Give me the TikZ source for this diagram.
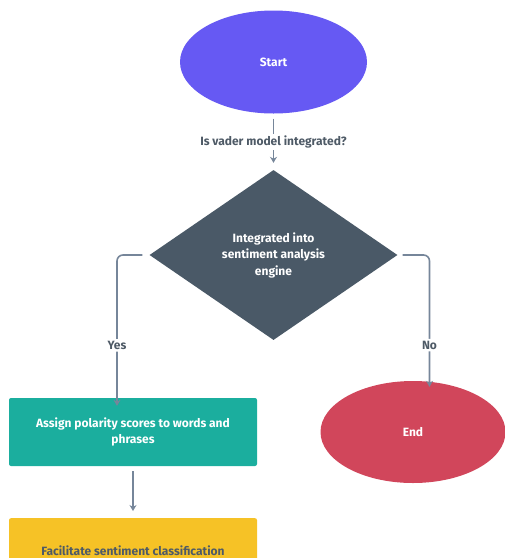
\documentclass[tikz,border=0pt]{standalone}
\usepackage{fontspec}
\setmainfont{Fira Sans}
\usetikzlibrary{shapes.geometric,arrows.meta}
\definecolor{startc}{HTML}{6659F3}
\definecolor{diac}{HTML}{4A5967}
\definecolor{tealc}{HTML}{1BAE9E}
\definecolor{endc}{HTML}{D1465B}
\definecolor{yelc}{HTML}{F6C226}
\definecolor{connc}{HTML}{76869A}
\definecolor{labc}{HTML}{4E5A66}
\tikzset{
  every node/.style={font=\fontsize{12}{16.5}\selectfont\bfseries},
  oval/.style={ellipse, draw=none, text=white, inner sep=0pt},
  box/.style={rectangle, rounded corners=2pt, draw=none, inner sep=0pt, minimum width=248pt, align=center},
  conn/.style={draw=connc, line width=1.6pt, -{Stealth[length=6pt,width=7pt]}},
  lab/.style={fill=white, text=labc, inner sep=2pt}
}
\begin{document}
\begin{tikzpicture}[x=1pt,y=-1pt]
\useasboundingbox (0,0) rectangle (505,558);
\clip (0,0) rectangle (505,558);
\node[oval, fill=startc, minimum width=187pt, minimum height=103pt] (start) at (273.5,62) {Start};
\node[diamond, fill=diac, text=white, minimum width=248pt, minimum height=170pt, inner sep=0pt, align=center] (dia) at (273.5,255) {Integrated into\\sentiment analysis\\engine};
\node[box, fill=tealc, text=white, minimum height=68pt] (assign) at (133,432) {Assign polarity scores to words and\\phrases};
\node[box, fill=yelc, text=labc, minimum height=80pt, anchor=north] (facil) at (133,518) {};
\node[text=labc] (facilt) at (133,550.5) {Facilitate sentiment classification};
\node[oval, fill=endc, minimum width=185pt, minimum height=102pt] (end) at (413,432) {End};
\draw[conn, shorten <=5pt, shorten >=7pt] (start) -- node[lab] {Is vader model integrated?} (dia);
\draw[conn, rounded corners=6pt] ([xshift=-7pt]dia.west) -| node[lab, pos=0.80] {Yes} ([xshift=-16pt, yshift=-8pt]assign.north);
\draw[conn, rounded corners=6pt] ([xshift=5pt]dia.east) -| node[lab, pos=0.842] {No} ([yshift=-6pt]end.north -| 429.5,0);
\draw[conn, shorten <=5pt, shorten >=7pt] (assign) -- (facil);
\end{tikzpicture}
\end{document}
